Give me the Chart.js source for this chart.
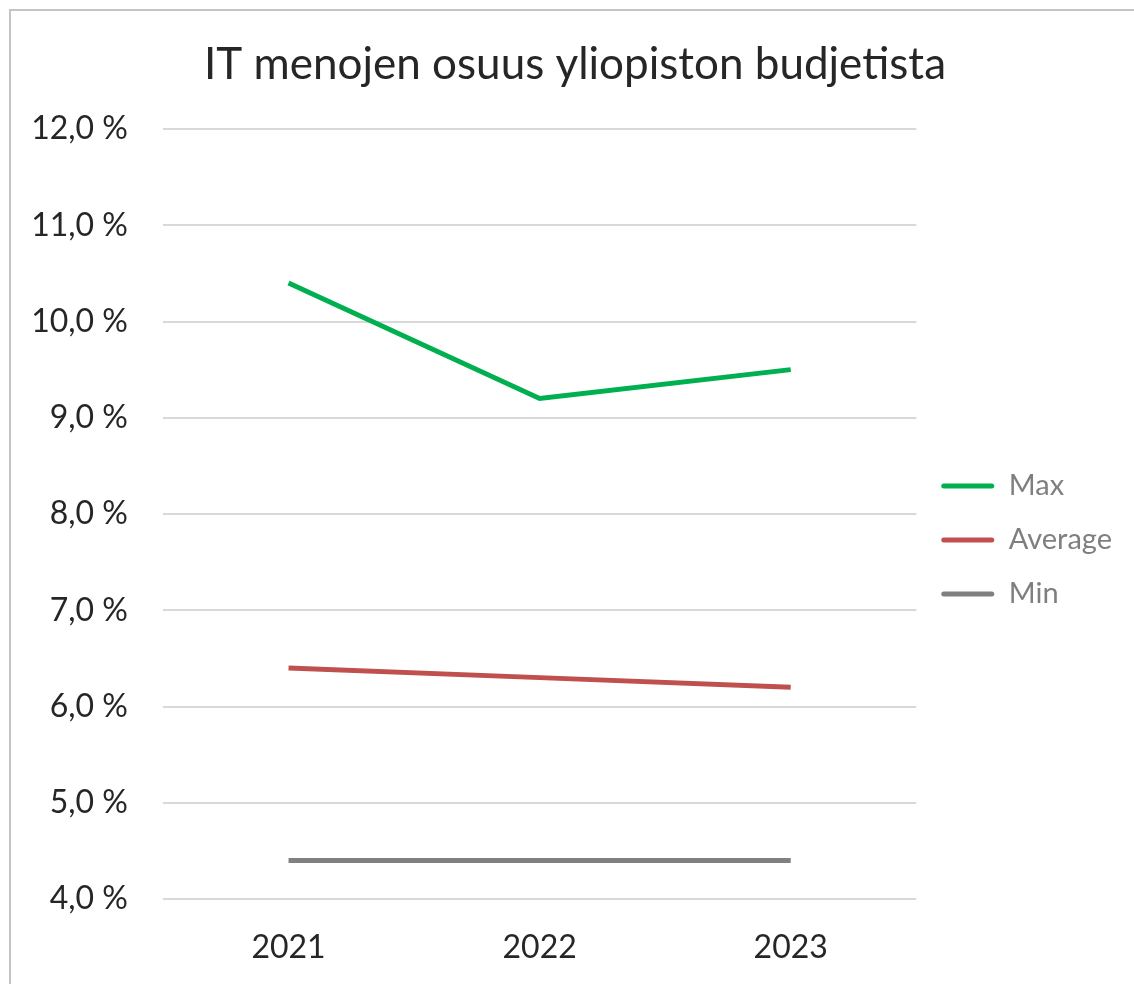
<!DOCTYPE html>
<html>
<head>
<meta charset="utf-8">
<script src="https://cdn.jsdelivr.net/npm/chart.js@4.4.1/dist/chart.umd.min.js"></script>
<style>
    html, body { margin: 0; padding: 0; background: #fff; overflow: hidden; width: 1134px; height: 984px; }
    #frame { position: absolute; left: 9px; top: 9px; width: 1300px; height: 1200px; border: 2px solid #c4c4c4; }
    #itChart { position: absolute; left: 10px; top: 10px; }
</style>
</head>
<body>
<div id="frame"></div>
<canvas id="itChart" width="1124" height="1060"></canvas>
<script>
// Data
const years = ['2021', '2022', '2023'];
const maxValues = [10.4, 9.2, 9.5];
const averageValues = [6.4, 6.3, 6.2];
const minValues = [4.4, 4.4, 4.4];
const yTicks = [4, 5, 6, 7, 8, 9, 10, 11, 12];

const fontFamily = "Lato, 'Open Sans', sans-serif";

function pct(value) {
    return value.toFixed(1).replace('.', ',') + ' %';
}

window.addEventListener('load', function() {
    const ctx = document.getElementById('itChart').getContext('2d');
    const itChart = new Chart(ctx, {
        type: 'line',
        data: {
            labels: years,
            datasets: [{
                label: 'Max',
                data: maxValues,
                borderColor: '#00b050',
                backgroundColor: '#00b050',
                borderWidth: 5,
                pointRadius: 0,
                tension: 0
            }, {
                label: 'Average',
                data: averageValues,
                borderColor: '#c0504d',
                backgroundColor: '#c0504d',
                borderWidth: 5,
                pointRadius: 0,
                tension: 0
            }, {
                label: 'Min',
                data: minValues,
                borderColor: '#808080',
                backgroundColor: '#808080',
                borderWidth: 5,
                pointRadius: 0,
                tension: 0
            }]
        },
        options: {
            responsive: false,
            animation: false,
            layout: {
                padding: { left: 18, right: 12, top: 0, bottom: 0 }
            },
            scales: {
                x: {
                    offset: true,
                    grid: { display: false },
                    border: { display: false },
                    ticks: {
                        color: '#262626',
                        padding: 21,
                        font: { family: fontFamily, size: 32 }
                    },
                    afterFit: function(scale) {
                        scale.height = 171;
                    }
                },
                y: {
                    min: 4,
                    max: 12,
                    afterBuildTicks: function(scale) {
                        scale.ticks = yTicks.map(v => ({ value: v }));
                    },
                    grid: {
                        color: '#d9d9d9',
                        lineWidth: 2,
                        drawTicks: false
                    },
                    border: { display: false },
                    ticks: {
                        color: '#262626',
                        padding: 35,
                        font: { family: fontFamily, size: 32 },
                        callback: function(value) {
                            return pct(value);
                        }
                    },
                    afterFit: function(scale) {
                        scale.width = 135;
                    }
                }
            },
            plugins: {
                title: {
                    display: true,
                    text: 'IT menojen osuus yliopiston budjetista',
                    color: '#262626',
                    font: { family: fontFamily, size: 44, weight: 'normal', lineHeight: 1.2 },
                    padding: { top: 28.6, bottom: 37.6 }
                },
                legend: {
                    position: 'right',
                    maxWidth: 207,
                    labels: {
                        color: '#7f7f7f',
                        boxWidth: 53,
                        boxHeight: 5,
                        padding: 25,
                        useBorderRadius: true,
                        borderRadius: 2.5,
                        font: { family: fontFamily, size: 29, lineHeight: 1 },
                        generateLabels: function(chart) {
                            return chart.data.datasets.map((ds, i) => ({
                                text: ds.label,
                                fillStyle: ds.borderColor,
                                strokeStyle: ds.borderColor,
                                lineWidth: 0,
                                fontColor: '#7f7f7f',
                                borderRadius: 2.5,
                                hidden: false,
                                datasetIndex: i
                            }));
                        }
                    }
                },
                tooltip: { enabled: false }
            }
        }
    });
});
</script>
</body>
</html>
